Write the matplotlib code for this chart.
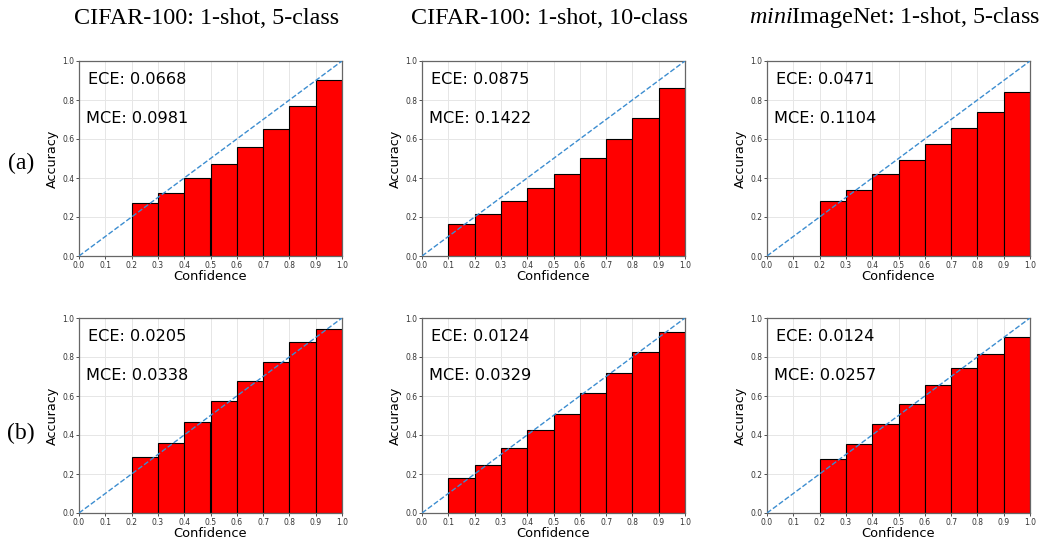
import matplotlib
matplotlib.use("Agg")
import matplotlib.pyplot as plt
import numpy as np

plt.rcParams["mathtext.fontset"] = "custom"
plt.rcParams["mathtext.rm"] = "Liberation Serif"
plt.rcParams["mathtext.it"] = "Liberation Serif:italic"

# bin lower edges and per-bin accuracy
bins_a1 = [0.2, 0.3, 0.4, 0.5, 0.6, 0.7, 0.8, 0.9]
acc_a1 = [0.270, 0.321, 0.400, 0.472, 0.559, 0.651, 0.769, 0.901]
bins_a2 = [0.1, 0.2, 0.3, 0.4, 0.5, 0.6, 0.7, 0.8, 0.9]
acc_a2 = [0.166, 0.215, 0.282, 0.350, 0.423, 0.505, 0.602, 0.706, 0.860]
bins_a3 = [0.2, 0.3, 0.4, 0.5, 0.6, 0.7, 0.8, 0.9]
acc_a3 = [0.282, 0.338, 0.420, 0.491, 0.575, 0.655, 0.737, 0.841]
bins_b1 = [0.2, 0.3, 0.4, 0.5, 0.6, 0.7, 0.8, 0.9]
acc_b1 = [0.289, 0.361, 0.468, 0.573, 0.677, 0.773, 0.877, 0.945]
bins_b2 = [0.1, 0.2, 0.3, 0.4, 0.5, 0.6, 0.7, 0.8, 0.9]
acc_b2 = [0.181, 0.244, 0.332, 0.424, 0.509, 0.617, 0.718, 0.827, 0.928]
bins_b3 = [0.2, 0.3, 0.4, 0.5, 0.6, 0.7, 0.8, 0.9]
acc_b3 = [0.277, 0.356, 0.458, 0.561, 0.658, 0.745, 0.815, 0.904]

ece = [["0.0668", "0.0875", "0.0471"], ["0.0205", "0.0124", "0.0124"]]
mce = [["0.0981", "0.1422", "0.1104"], ["0.0338", "0.0329", "0.0257"]]
col_titles = ["CIFAR-100: 1-shot, 5-class", "CIFAR-100: 1-shot, 10-class",
              r"$\it{mini}$ImageNet: 1-shot, 5-class"]
row_labels = ["(a)", "(b)"]

data = [[(bins_a1, acc_a1), (bins_a2, acc_a2), (bins_a3, acc_a3)],
        [(bins_b1, acc_b1), (bins_b2, acc_b2), (bins_b3, acc_b3)]]

W, H = 1040, 546
fig = plt.figure(figsize=(W / 100, H / 100), dpi=100)

lefts = [79, 422, 767]
tops = [61, 318]
aw, ah = 263, 195

for r in range(2):
    for c in range(3):
        bins, acc = data[r][c]
        ax = fig.add_axes([lefts[c] / W, 1 - (tops[r] + ah) / H, aw / W, ah / H])
        ax.bar(bins, acc, width=0.1, align="edge", color="red",
               edgecolor="black", linewidth=0.8, zorder=2)
        ax.plot([0, 1], [0, 1], "--", color="#3c8dd0", linewidth=1.0, zorder=3)
        ax.set_xlim(0, 1)
        ax.set_ylim(0, 1)
        ax.set_xticks(np.arange(0, 1.01, 0.1))
        ax.set_yticks(np.arange(0, 1.01, 0.2))
        ax.grid(True, color="#e6e6e6", linewidth=0.7, zorder=0)
        ax.set_axisbelow(True)
        ax.tick_params(labelsize=5.5, length=2, width=0.6, pad=1.5,
                       colors="#333333")
        for s in ax.spines.values():
            s.set_color("#666666")
            s.set_linewidth(0.9)
        ax.set_xlabel("Confidence", fontsize=9.4, labelpad=0)
        ax.set_ylabel("Accuracy", fontsize=9.2, labelpad=2)
        ax.text(0.033, 0.905, "ECE: " + ece[r][c], fontsize=11.6, va="center")
        ax.text(0.028, 0.705, "MCE: " + mce[r][c], fontsize=11.6, va="center")

for c in range(3):
    fig.text((lefts[c] + aw / 2 - 4) / W, 1 - 18 / H, col_titles[c],
             family="Liberation Serif", fontsize=17.4, ha="center", va="center")

for r, y in enumerate([163, 433]):
    fig.text(21 / W, 1 - y / H, row_labels[r], family="Liberation Serif",
             fontsize=17, ha="center", va="center")

fig.savefig("out.png", dpi=100)
